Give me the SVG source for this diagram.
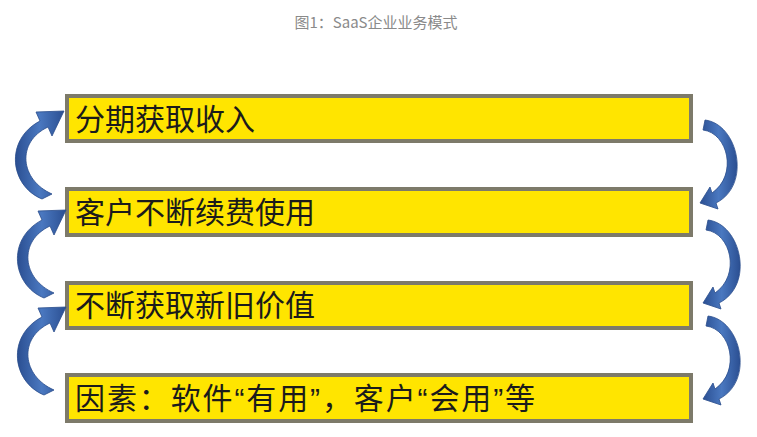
<svg xmlns="http://www.w3.org/2000/svg" width="757" height="437" viewBox="0 0 757 437">
  <style>
    .box { fill: #FFE500; stroke: #7D7A6A; stroke-width: 4; }
    .lbl { font-family: "Noto Sans CJK SC", "Noto Sans", sans-serif; font-size: 30px; fill: #1b1b1b; }
    .q { font-family: "Liberation Sans", "Noto Sans", sans-serif; }
    .title { font-family: "Noto Sans CJK SC", "Noto Sans", sans-serif; font-size: 15px; fill: #8a8a8a; }
    .arr { fill: url(#blue); stroke: #2A4C8C; stroke-width: 0.8; stroke-linejoin: round; }
  </style>
  <defs>
    <linearGradient id="blue" x1="0" y1="0" x2="1" y2="0">
      <stop offset="0" stop-color="#2B4F92"/>
      <stop offset="0.5" stop-color="#4A78C0"/>
      <stop offset="1" stop-color="#2B4F92"/>
    </linearGradient>
    <path id="leftArrow" d="M 42,199 C 10,186 4,140 40,121 L 36,112 L 64,111 L 52,136 L 48,127 C 16,142 20,180 52,194 Z"/>
    <path id="rightArrow" d="M 705,120 C 738,124 752,185 716,203 L 718,209 L 700,203 L 710,187 L 712,193 C 738,175 728,133 703,130 Z"/>
  </defs>
  <rect width="757" height="437" fill="#ffffff"/>
  <text class="title" x="376" y="28" text-anchor="middle">图1：SaaS企业业务模式</text>

  <g id="node1">
    <rect class="box" x="67" y="96" width="624" height="45"/>
    <text class="lbl" x="75" y="130">分期获取收入</text>
  </g>
  <g id="node2">
    <rect class="box" x="67" y="189" width="624" height="46"/>
    <text class="lbl" x="75" y="223">客户不断续费使用</text>
  </g>
  <g id="node3">
    <rect class="box" x="67" y="283" width="624" height="45"/>
    <text class="lbl" x="75" y="316">不断获取新旧价值</text>
  </g>
  <g id="node4">
    <rect class="box" x="67" y="375" width="624" height="46"/>
    <text class="lbl" x="75" y="409" textLength="460" lengthAdjust="spacing">因素：软件<tspan class="q">“</tspan>有用<tspan class="q">”</tspan>，客户<tspan class="q">“</tspan>会用<tspan class="q">”</tspan>等</text>
  </g>

  <g id="connectors">
    <use href="#leftArrow" class="arr"/>
    <use href="#leftArrow" class="arr" transform="translate(2,99)"/>
    <use href="#leftArrow" class="arr" transform="translate(2,196)"/>
    <use href="#rightArrow" class="arr"/>
    <use href="#rightArrow" class="arr" transform="translate(3,100)"/>
    <use href="#rightArrow" class="arr" transform="translate(3,196)"/>
  </g>
</svg>
